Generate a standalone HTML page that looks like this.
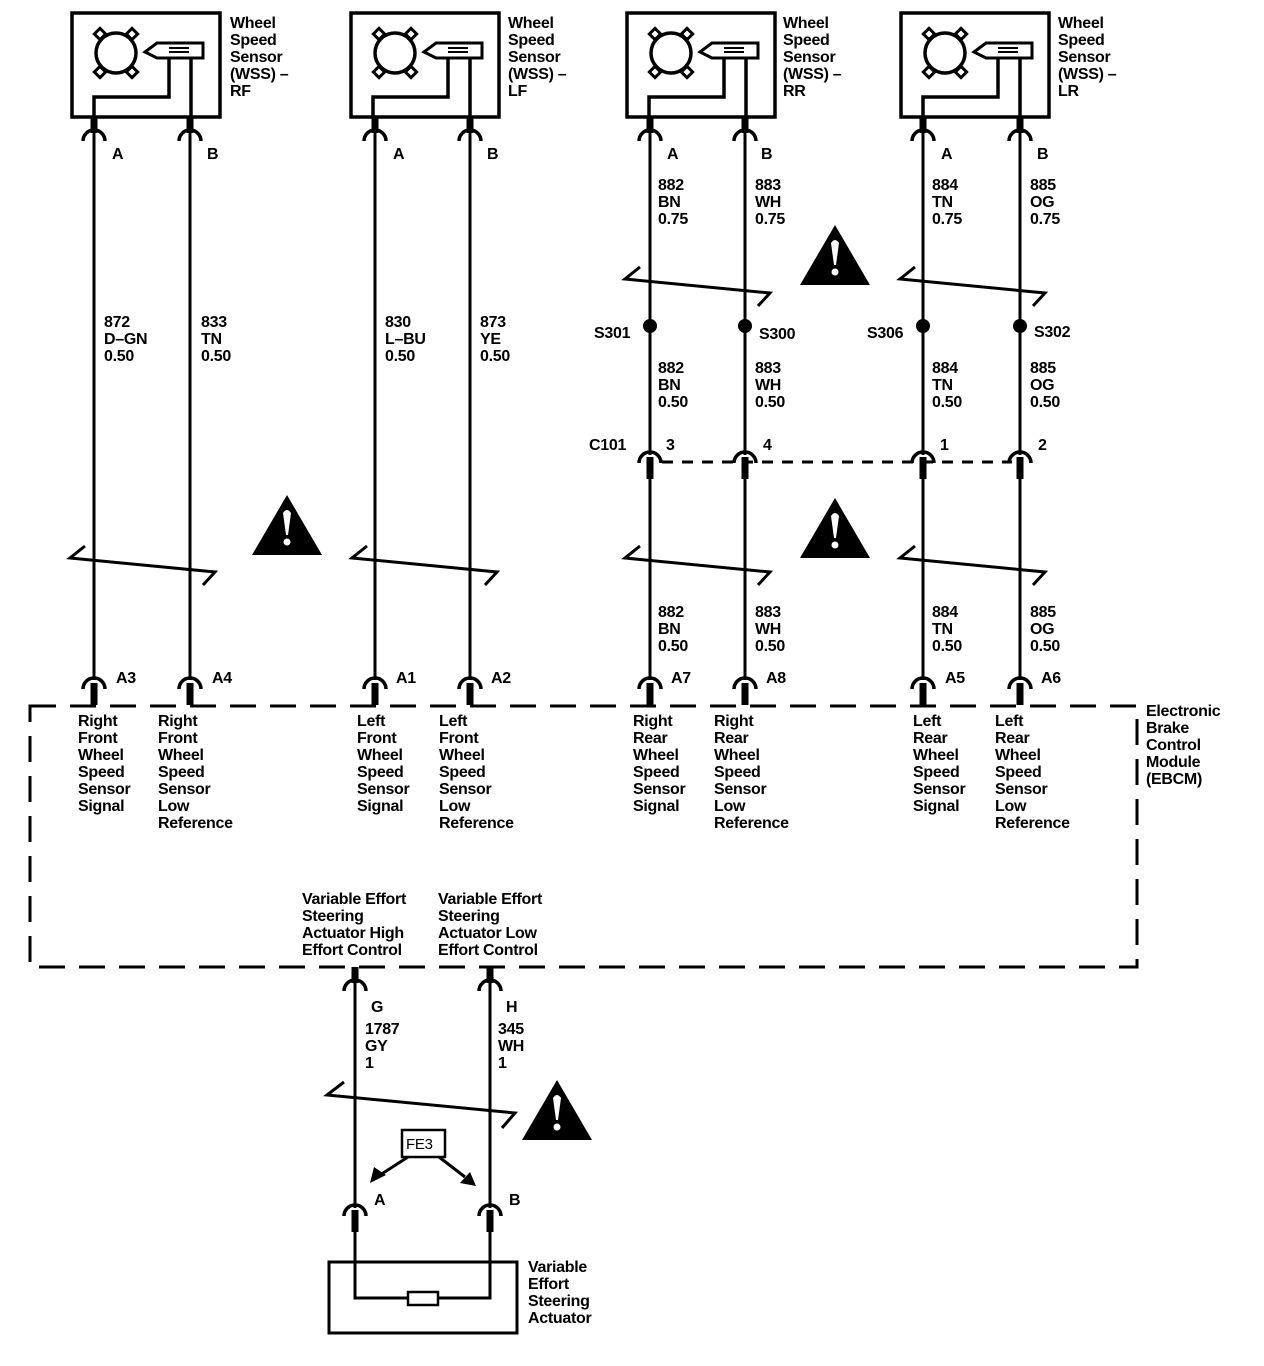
<!DOCTYPE html>
<html><head><meta charset="utf-8"><style>
html,body{margin:0;padding:0;background:#fff}
svg{display:block}
text{font-family:"Liberation Sans",Arial,sans-serif;font-size:16px;font-weight:bold;fill:#000;letter-spacing:-0.3px}
</style></head><body>
<svg width="1264" height="1366" viewBox="0 0 1264 1366" xmlns="http://www.w3.org/2000/svg">
<defs>
<g id="ct"><rect x="-3.5" y="0" width="7" height="16" fill="#000"/><path d="M-11,24 A11,11 0 0 1 11,24" fill="none" stroke="#000" stroke-width="3.5"/></g>
<g id="cb"><path d="M-11,11 A11,11 0 0 1 11,11" fill="none" stroke="#000" stroke-width="3.5"/><rect x="-3.5" y="5" width="7" height="22" fill="#000"/></g>
<g id="sen">
<rect x="0" y="0" width="148" height="104" fill="none" stroke="#000" stroke-width="3.5"/>
<circle cx="44" cy="40" r="20" fill="none" stroke="#000" stroke-width="3.5"/>
<g fill="#fff" stroke="#000" stroke-width="3">
<rect x="24" y="17" width="8" height="8" transform="rotate(45 28 21)"/>
<rect x="56" y="17" width="8" height="8" transform="rotate(45 60 21)"/>
<rect x="24" y="55" width="8" height="8" transform="rotate(45 28 59)"/>
<rect x="56" y="55" width="8" height="8" transform="rotate(45 60 59)"/>
</g>
<path d="M73,39 L85,30 L131,30 L131,45 L85,45 Z" fill="none" stroke="#000" stroke-width="3"/>
<path d="M97,35 h20 M97,39 h20" stroke="#000" stroke-width="2"/>
<path d="M22,104 V84 H97 V45 M119,45 V104" fill="none" stroke="#000" stroke-width="3.5"/>
</g>
<g id="warn"><path d="M35,0 L70,60 L0,60 Z" fill="#000"/><path d="M31,18 Q35,12 39,18 L36,40 L34,40 Z" fill="#fff"/><circle cx="35" cy="47" r="3.5" fill="#fff"/></g>
</defs>

<g stroke="#000" stroke-width="3" fill="none">
<!-- wires -->
<path d="M94,130 V680 M190,130 V680 M375,130 V680 M470,130 V680 M650,130 V455 M745,130 V455 M923,130 V455 M1020,130 V455 M650,478 V680 M745,478 V680 M923,478 V680 M1020,478 V680"/>
<path d="M355,980 V1208 M490,980 V1208 M355,1230 V1298 H408 M438,1298 H490 V1230"/>
<!-- breaks -->
<path d="M85,546 L70,558 L215,572 L203,585"/>
<path d="M367,546 L352,558 L497,572 L485,585"/>
<path d="M640,546 L625,558 L770,572 L758,585"/>
<path d="M915,546 L900,558 L1045,572 L1033,585"/>
<path d="M640,267 L625,279 L770,293 L758,306"/>
<path d="M915,267 L900,279 L1045,293 L1033,306"/>
<path d="M344,1082 L327,1095 L515,1113 L502,1128"/>
<!-- dashed -->
<rect x="30" y="706" width="1107" height="261" stroke-dasharray="26,14"/>
<path d="M662,462 H1012" stroke-dasharray="11,9"/>
<!-- actuator -->
<rect x="329" y="1262" width="188" height="71"/>
<rect x="408" y="1292" width="30" height="13" stroke-width="2.5"/>
<rect x="402" y="1130" width="43" height="27" stroke-width="2.5"/>
<path d="M408,1157 L380,1175 M439,1157 L465,1177" stroke-width="3"/>
</g>
<path d="M370,1183 L374,1167 L386,1175 Z" fill="#000"/>
<path d="M476,1186 L460,1183 L470,1172 Z" fill="#000"/>

<g fill="#000">
<circle cx="650" cy="326" r="7"/><circle cx="745" cy="326" r="7"/><circle cx="923" cy="326" r="7"/><circle cx="1020" cy="326" r="7"/>
</g>

<use href="#sen" x="72" y="13"/><use href="#sen" x="351" y="13"/><use href="#sen" x="627" y="13"/><use href="#sen" x="901" y="13"/>
<g>
<use href="#ct" x="94" y="117"/><use href="#ct" x="190" y="117"/><use href="#ct" x="375" y="117"/><use href="#ct" x="470" y="117"/>
<use href="#ct" x="650" y="117"/><use href="#ct" x="745" y="117"/><use href="#ct" x="923" y="117"/><use href="#ct" x="1020" y="117"/>
<use href="#cb" x="94" y="678"/><use href="#cb" x="190" y="678"/><use href="#cb" x="375" y="678"/><use href="#cb" x="470" y="678"/>
<use href="#cb" x="650" y="678"/><use href="#cb" x="745" y="678"/><use href="#cb" x="923" y="678"/><use href="#cb" x="1020" y="678"/>
<use href="#cb" x="650" y="452"/><use href="#cb" x="745" y="452"/><use href="#cb" x="923" y="452"/><use href="#cb" x="1020" y="452"/>
<use href="#ct" x="355" y="967"/><use href="#ct" x="490" y="967"/>
<use href="#cb" x="355" y="1205"/><use href="#cb" x="490" y="1205"/>
</g>
<use href="#warn" x="252" y="495"/><use href="#warn" x="800" y="225"/><use href="#warn" x="800" y="498"/><use href="#warn" x="522" y="1080"/>

<!-- sensor labels -->
<text x="230" y="28">Wheel<tspan x="230" dy="17">Speed</tspan><tspan x="230" dy="17">Sensor</tspan><tspan x="230" dy="17">(WSS) –</tspan><tspan x="230" dy="17">RF</tspan></text>
<text x="508" y="28">Wheel<tspan x="508" dy="17">Speed</tspan><tspan x="508" dy="17">Sensor</tspan><tspan x="508" dy="17">(WSS) –</tspan><tspan x="508" dy="17">LF</tspan></text>
<text x="783" y="28">Wheel<tspan x="783" dy="17">Speed</tspan><tspan x="783" dy="17">Sensor</tspan><tspan x="783" dy="17">(WSS) –</tspan><tspan x="783" dy="17">RR</tspan></text>
<text x="1058" y="28">Wheel<tspan x="1058" dy="17">Speed</tspan><tspan x="1058" dy="17">Sensor</tspan><tspan x="1058" dy="17">(WSS) –</tspan><tspan x="1058" dy="17">LR</tspan></text>

<text x="112" y="159">A</text><text x="207" y="159">B</text><text x="393" y="159">A</text><text x="487" y="159">B</text>
<text x="667" y="159">A</text><text x="761" y="159">B</text><text x="941" y="159">A</text><text x="1037" y="159">B</text>

<text x="658" y="190">882<tspan x="658" dy="17">BN</tspan><tspan x="658" dy="17">0.75</tspan></text>
<text x="755" y="190">883<tspan x="755" dy="17">WH</tspan><tspan x="755" dy="17">0.75</tspan></text>
<text x="932" y="190">884<tspan x="932" dy="17">TN</tspan><tspan x="932" dy="17">0.75</tspan></text>
<text x="1030" y="190">885<tspan x="1030" dy="17">OG</tspan><tspan x="1030" dy="17">0.75</tspan></text>

<text x="104" y="327">872<tspan x="104" dy="17">D–GN</tspan><tspan x="104" dy="17">0.50</tspan></text>
<text x="201" y="327">833<tspan x="201" dy="17">TN</tspan><tspan x="201" dy="17">0.50</tspan></text>
<text x="385" y="327">830<tspan x="385" dy="17">L–BU</tspan><tspan x="385" dy="17">0.50</tspan></text>
<text x="480" y="327">873<tspan x="480" dy="17">YE</tspan><tspan x="480" dy="17">0.50</tspan></text>

<text x="594" y="338">S301</text><text x="759" y="339">S300</text><text x="867" y="338">S306</text><text x="1034" y="337">S302</text>

<text x="658" y="373">882<tspan x="658" dy="17">BN</tspan><tspan x="658" dy="17">0.50</tspan></text>
<text x="755" y="373">883<tspan x="755" dy="17">WH</tspan><tspan x="755" dy="17">0.50</tspan></text>
<text x="932" y="373">884<tspan x="932" dy="17">TN</tspan><tspan x="932" dy="17">0.50</tspan></text>
<text x="1030" y="373">885<tspan x="1030" dy="17">OG</tspan><tspan x="1030" dy="17">0.50</tspan></text>

<text x="589" y="450">C101</text><text x="666" y="450">3</text><text x="763" y="450">4</text><text x="940" y="450">1</text><text x="1038" y="450">2</text>

<text x="658" y="617">882<tspan x="658" dy="17">BN</tspan><tspan x="658" dy="17">0.50</tspan></text>
<text x="755" y="617">883<tspan x="755" dy="17">WH</tspan><tspan x="755" dy="17">0.50</tspan></text>
<text x="932" y="617">884<tspan x="932" dy="17">TN</tspan><tspan x="932" dy="17">0.50</tspan></text>
<text x="1030" y="617">885<tspan x="1030" dy="17">OG</tspan><tspan x="1030" dy="17">0.50</tspan></text>

<text x="116" y="683">A3</text><text x="212" y="683">A4</text><text x="396" y="683">A1</text><text x="491" y="683">A2</text>
<text x="671" y="683">A7</text><text x="766" y="683">A8</text><text x="945" y="683">A5</text><text x="1041" y="683">A6</text>

<text x="78" y="726">Right<tspan x="78" dy="17">Front</tspan><tspan x="78" dy="17">Wheel</tspan><tspan x="78" dy="17">Speed</tspan><tspan x="78" dy="17">Sensor</tspan><tspan x="78" dy="17">Signal</tspan></text>
<text x="158" y="726">Right<tspan x="158" dy="17">Front</tspan><tspan x="158" dy="17">Wheel</tspan><tspan x="158" dy="17">Speed</tspan><tspan x="158" dy="17">Sensor</tspan><tspan x="158" dy="17">Low</tspan><tspan x="158" dy="17">Reference</tspan></text>
<text x="357" y="726">Left<tspan x="357" dy="17">Front</tspan><tspan x="357" dy="17">Wheel</tspan><tspan x="357" dy="17">Speed</tspan><tspan x="357" dy="17">Sensor</tspan><tspan x="357" dy="17">Signal</tspan></text>
<text x="439" y="726">Left<tspan x="439" dy="17">Front</tspan><tspan x="439" dy="17">Wheel</tspan><tspan x="439" dy="17">Speed</tspan><tspan x="439" dy="17">Sensor</tspan><tspan x="439" dy="17">Low</tspan><tspan x="439" dy="17">Reference</tspan></text>
<text x="633" y="726">Right<tspan x="633" dy="17">Rear</tspan><tspan x="633" dy="17">Wheel</tspan><tspan x="633" dy="17">Speed</tspan><tspan x="633" dy="17">Sensor</tspan><tspan x="633" dy="17">Signal</tspan></text>
<text x="714" y="726">Right<tspan x="714" dy="17">Rear</tspan><tspan x="714" dy="17">Wheel</tspan><tspan x="714" dy="17">Speed</tspan><tspan x="714" dy="17">Sensor</tspan><tspan x="714" dy="17">Low</tspan><tspan x="714" dy="17">Reference</tspan></text>
<text x="913" y="726">Left<tspan x="913" dy="17">Rear</tspan><tspan x="913" dy="17">Wheel</tspan><tspan x="913" dy="17">Speed</tspan><tspan x="913" dy="17">Sensor</tspan><tspan x="913" dy="17">Signal</tspan></text>
<text x="995" y="726">Left<tspan x="995" dy="17">Rear</tspan><tspan x="995" dy="17">Wheel</tspan><tspan x="995" dy="17">Speed</tspan><tspan x="995" dy="17">Sensor</tspan><tspan x="995" dy="17">Low</tspan><tspan x="995" dy="17">Reference</tspan></text>

<text x="1146" y="716">Electronic<tspan x="1146" dy="17">Brake</tspan><tspan x="1146" dy="17">Control</tspan><tspan x="1146" dy="17">Module</tspan><tspan x="1146" dy="17">(EBCM)</tspan></text>

<text x="302" y="904">Variable Effort<tspan x="302" dy="17">Steering</tspan><tspan x="302" dy="17">Actuator High</tspan><tspan x="302" dy="17">Effort Control</tspan></text>
<text x="438" y="904">Variable Effort<tspan x="438" dy="17">Steering</tspan><tspan x="438" dy="17">Actuator Low</tspan><tspan x="438" dy="17">Effort Control</tspan></text>

<text x="371" y="1012">G</text><text x="506" y="1012">H</text>
<text x="365" y="1034">1787<tspan x="365" dy="17">GY</tspan><tspan x="365" dy="17">1</tspan></text>
<text x="498" y="1034">345<tspan x="498" dy="17">WH</tspan><tspan x="498" dy="17">1</tspan></text>
<text x="406" y="1149" style="font-weight:normal;font-size:15px">FE3</text>
<text x="374" y="1205">A</text><text x="509" y="1205">B</text>
<text x="528" y="1272">Variable<tspan x="528" dy="17">Effort</tspan><tspan x="528" dy="17">Steering</tspan><tspan x="528" dy="17">Actuator</tspan></text>
</svg>
</body></html>
